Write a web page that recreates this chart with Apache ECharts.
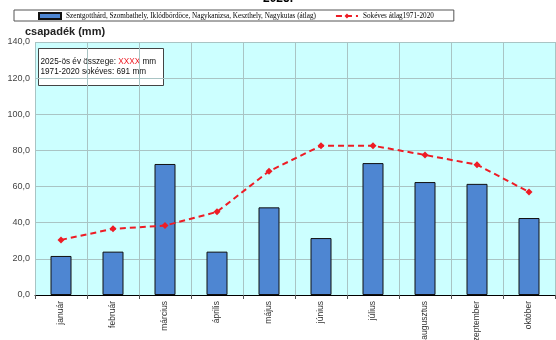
<!DOCTYPE html>
<html>
<head>
<meta charset="utf-8">
<script src="https://cdn.jsdelivr.net/npm/echarts@6/dist/echarts.min.js"></script>
<style>
  html, body { margin: 0; padding: 0; background: #ffffff; }
  #chart { width: 556px; height: 340px; }
</style>
</head>
<body>
<div id="chart"></div>
<script>
// Monthly precipitation, 2025 (station average) vs. the 1971-2020 long-term mean
const months = ['január', 'február', 'március', 'április', 'május', 'június',
                'július', 'augusztus', 'szeptember', 'október'];
const stationAvg2025 = [21.6, 24.0, 72.5, 24.0, 48.5, 31.5, 73.0, 62.5, 61.5, 42.6];
const longTermAvg = [30.5, 36.6, 38.4, 46.0, 68.5, 82.6, 82.6, 77.5, 72.1, 57.0];
const yTicks = { min: 0, max: 140, interval: 20 };

const barName = 'Szentgotthárd, Szombathely, Iklódbördöce, Nagykanizsa, Keszthely, Nagykutas (átlag)';
const lineName = 'Sokéves átlag1971-2020';

const chart = echarts.init(document.getElementById('chart'), null, { renderer: 'canvas' });

chart.setOption({
  animation: false,
  backgroundColor: '#ffffff',
  title: {
    text: '2025.',
    left: 'center',
    top: -12,
    textStyle: { fontFamily: 'Liberation Sans', fontSize: 12, fontWeight: 'bold', color: '#000' }
  },
  legend: {
    left: 14,
    top: 10,
    padding: [2, 20, 1, 24],
    itemGap: 19,
    itemWidth: 22,
    itemHeight: 6,
    backgroundColor: '#ffffff',
    borderColor: '#555',
    borderWidth: 1,
    textStyle: { fontFamily: 'Liberation Serif', fontSize: 7.2, color: '#000' },
    data: [
      { name: barName, icon: 'rect' },
      { name: lineName }
    ]
  },
  grid: { left: 35, right: 1, top: 42, bottom: 45, outerBoundsMode: 'none', containLabel: false },
  xAxis: {
    type: 'category',
    data: months,
    boundaryGap: true,
    axisLine: { lineStyle: { color: '#000', width: 1 } },
    axisTick: { show: true, length: 4, lineStyle: { color: '#555' } },
    splitLine: { show: true, lineStyle: { color: '#a9c4c4', width: 1 } },
    axisLabel: {
      rotate: 90,
      fontFamily: 'Liberation Sans',
      fontSize: 8.5,
      color: '#333',
      margin: 6
    }
  },
  yAxis: {
    type: 'value',
    min: yTicks.min,
    max: yTicks.max,
    interval: yTicks.interval,
    name: 'csapadék (mm)',
    nameLocation: 'end',
    nameGap: 4,
    nameTextStyle: {
      fontFamily: 'Liberation Sans', fontSize: 11, fontWeight: 'bold', color: '#222',
      align: 'left', padding: [0, 0, 0, -10]
    },
    axisLine: { show: false },
    axisTick: { show: false },
    splitLine: { show: true, lineStyle: { color: '#a9c4c4', width: 1 } },
    splitArea: { show: false },
    axisLabel: {
      fontFamily: 'Liberation Sans',
      fontSize: 9,
      color: '#444',
      margin: 5,
      formatter: v => v.toFixed(1).replace('.', ',')
    }
  },
  series: [
    {
      name: barName,
      type: 'bar',
      data: stationAvg2025,
      barWidth: 21,
      itemStyle: { color: '#4e86d2', borderColor: '#111', borderWidth: 1 },
      z: 2
    },
    {
      name: lineName,
      type: 'line',
      data: longTermAvg,
      symbol: 'diamond',
      symbolSize: 7,
      itemStyle: { color: '#ee1c25' },
      lineStyle: { color: '#ee1c25', width: 2, type: [6, 4] },
      z: 3
    }
  ],
  graphic: [
    {
      type: 'rect',
      left: 35, top: 42,
      shape: { width: 520, height: 253 },
      style: { fill: '#ccffff' },
      z: -10, silent: true
    },
    {
      type: 'group',
      left: 38, top: 48,
      z: 100,
      children: [
        {
          type: 'rect',
          shape: { width: 125, height: 37 },
          style: { fill: '#ffffff', stroke: '#444', lineWidth: 1 }
        },
        {
          type: 'text',
          left: 2, top: 9,
          style: {
            text: '{n|2025-ös év összege: }{r|XXXX}{n| mm}\n{n|1971-2020 sokéves: 691 mm}',
            rich: {
              n: { fontFamily: 'Liberation Sans', fontSize: 8.2, fill: '#111', color: '#111', lineHeight: 10 },
              r: { fontFamily: 'Liberation Sans', fontSize: 8.2, fill: '#ee1c25', color: '#ee1c25', lineHeight: 10 }
            }
          }
        }
      ]
    }
  ]
});
</script>
</body>
</html>
